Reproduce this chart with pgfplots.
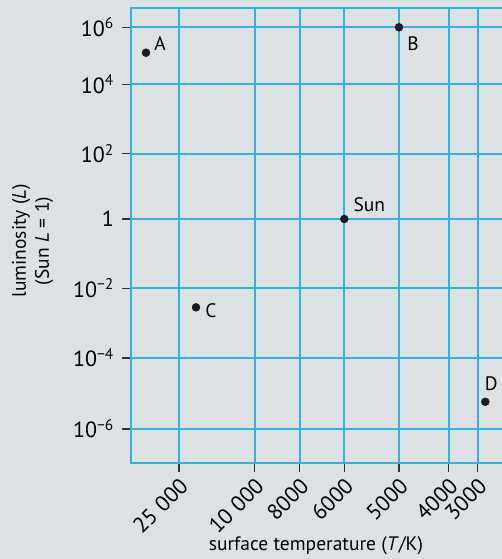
\documentclass[border=0pt]{standalone}
\usepackage{fontspec}
\setmainfont{PT Sans}
\usepackage{pgfplots}
\pgfplotsset{compat=1.18}
\definecolor{bgc}{HTML}{DCE1E3}
\definecolor{gridc}{HTML}{30B3E4}
\definecolor{dotc}{HTML}{1A1A24}
\begin{document}
\begin{tikzpicture}[font=\fontsize{19.5}{23}\selectfont]
\fill[bgc] (0,0) rectangle (502pt,559pt);
\begin{axis}[
  at={(131pt,96pt)}, anchor=south west,
  scale only axis, width=379pt, height=455pt,
  xmin=131, xmax=510, ymin=-7.07, ymax=6.116,
  axis line style={gridc, line width=2pt},
  grid=major, major grid style={gridc, line width=2pt},
  xtick={179,254.7,299.7,344.3,399,448.7,477.7},
  xticklabels={25\hspace{0.3em}000,10\hspace{0.3em}000,8000,6000,5000,4000,3000},
  ytick={5.557,3.904,1.893,0,-2.009,-4.020,-6.078},
  yticklabels={10\textsuperscript{6},10\textsuperscript{4},10\textsuperscript{2},1,10\textsuperscript{−2},10\textsuperscript{−4},10\textsuperscript{−6}},
  tick align=outside, major tick length=9pt,
  tick style={black!80, line width=1.5pt},
  xtick pos=bottom, ytick pos=left,
  tick label style={font=\fontsize{22}{26}\selectfont},
  xticklabel style={xshift=5pt, yshift=-10pt, rotate=45, anchor=east, inner sep=0pt},
  yticklabel style={inner sep=0pt, xshift=-8pt},
  xlabel={surface temperature (\textit{T}/K)},
  xlabel style={at={(axis description cs:0.488,-0.182)}, anchor=center},
  ylabel={luminosity (\textit{L})\\(Sun \textit{L} = 1)},
  ylabel style={at={(axis description cs:-0.26,0.488)}, anchor=center, align=center, rotate=0},
  clip=false,
]
\addplot[only marks, mark=*, mark size=4pt, color=dotc] table {
x y
146 4.820
399 5.557
344.3 0
196 -2.559
485.3 -5.296
};
\node[xshift=14pt,yshift=9pt] at (axis cs:146,4.820) {A};
\node[xshift=14pt,yshift=-16pt] at (axis cs:399,5.557) {B};
\node[xshift=25pt,yshift=14pt] at (axis cs:344.3,0) {Sun};
\node[xshift=15pt,yshift=-3pt] at (axis cs:196,-2.559) {C};
\node[xshift=6pt,yshift=18pt] at (axis cs:485.3,-5.296) {D};
\end{axis}
\pgfresetboundingbox
\path[use as bounding box] (0,0) rectangle (502pt,559pt);
\end{tikzpicture}
\end{document}
